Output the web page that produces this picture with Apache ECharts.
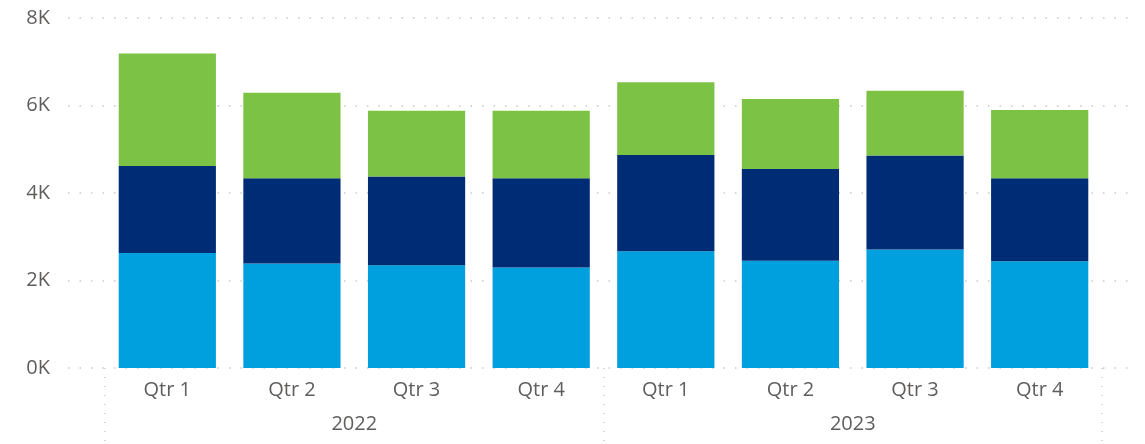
<!DOCTYPE html>
<html>
<head>
<meta charset="utf-8">
<script src="https://cdn.jsdelivr.net/npm/echarts@6/dist/echarts.min.js"></script>
<style>
html,body{margin:0;padding:0;background:#fff;}
#chart{width:1145px;height:444px;}
</style>
</head>
<body>
<div id="chart"></div>
<script>
const quarters = ['Qtr 1','Qtr 2','Qtr 3','Qtr 4','Qtr 1','Qtr 2','Qtr 3','Qtr 4'];
const years = ['2022','2023'];
const yTicks = [0, 2000, 4000, 6000, 8000];
const seriesLight = [2630, 2390, 2350, 2300, 2670, 2450, 2710, 2440];
const seriesNavy  = [1990, 1950, 2030, 2040, 2200, 2100, 2150, 1900];
const seriesGreen = [2570, 1950, 1500, 1540, 1660, 1600, 1480, 1560];

const labelColor = '#605E5C';
const font = 'Open Sans';
const gridColor = '#C8C8C8';

const chart = echarts.init(document.getElementById('chart'), null, {renderer: 'canvas'});
const yMin = yTicks[0], yMax = yTicks[yTicks.length-1], yInt = yTicks[1]-yTicks[0];

chart.setOption({
  animation: false,
  backgroundColor: '#fff',
  grid: [
    {left: 105, right: 43, top: 18, bottom: 76},
    {left: 68, right: 10, top: 18, bottom: 76}
  ],
  xAxis: [
    {
      type: 'category', gridIndex: 0, position: 'bottom', data: quarters,
      axisLine: {show: false}, axisTick: {show: false},
      axisLabel: {margin: 12, fontSize: 20, color: labelColor, fontFamily: font}
    },
    {
      type: 'category', gridIndex: 0, position: 'bottom', data: years,
      axisLine: {show: false},
      axisTick: {show: true, length: 76, lineStyle: {color: gridColor, type: [1, 8], width: 1.5}},
      axisLabel: {margin: 46, fontSize: 20, color: labelColor, fontFamily: font}
    },
    {
      type: 'category', gridIndex: 1, data: [], show: false
    }
  ],
  yAxis: [
    {
      type: 'value', gridIndex: 0, min: yMin, max: yMax, interval: yInt,
      show: false, splitLine: {show: false}
    },
    {
      type: 'value', gridIndex: 1, min: yMin, max: yMax, interval: yInt,
      axisLine: {show: false}, axisTick: {show: false},
      axisLabel: {margin: 18, fontSize: 20, color: labelColor, fontFamily: font,
        formatter: v => (v/1000) + 'K'},
      splitLine: {show: true, lineStyle: {color: gridColor, type: [1.5, 10], width: 1.5}}
    }
  ],
  series: [
    {type: 'bar', name: 'A', stack: 's', xAxisIndex: 0, yAxisIndex: 0, data: seriesLight,
      itemStyle: {color: '#009FDD'}, barCategoryGap: '22%'},
    {type: 'bar', name: 'B', stack: 's', xAxisIndex: 0, yAxisIndex: 0, data: seriesNavy,
      itemStyle: {color: '#002B75'}, barCategoryGap: '22%'},
    {type: 'bar', name: 'C', stack: 's', xAxisIndex: 0, yAxisIndex: 0, data: seriesGreen,
      itemStyle: {color: '#7CC245'}, barCategoryGap: '22%'}
  ]
});
</script>
</body>
</html>
